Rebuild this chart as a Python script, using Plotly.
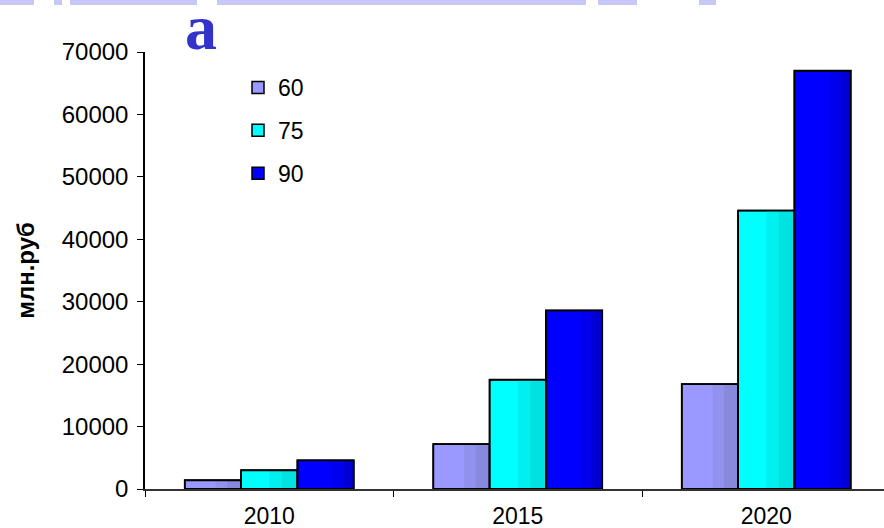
import plotly.graph_objects as go

# ---- data ----
years = ["2010", "2015", "2020"]
series_names = ["60", "75", "90"]
values_60 = [1400, 7200, 16800]
values_75 = [3000, 17500, 44600]
values_90 = [4600, 28600, 67000]
y_ticks = [0, 10000, 20000, 30000, 40000, 50000, 60000, 70000]
y_title = "млн.руб"
panel_letter = "a"

# ---- styling ----
series_values = [values_60, values_75, values_90]
# (base, mid, dark) shades to imitate the horizontal gradient
shades = [
    ("#9999ff", "#9191ee", "#8888dd"),
    ("#00ffff", "#00f0f0", "#00e2e2"),
    ("#0000ff", "#0000ee", "#0000d4"),
]
strip_starts = [(0.55, 0.75), (0.5, 0.72), (0.62, 0.82)]

W, H = 884, 528
L, R, T, B = 145, 0, 52, 39
bw = 0.2266
start = -1.5 * bw

fig = go.Figure()
for i, (name, vals) in enumerate(zip(series_names, series_values)):
    off = start + i * bw
    base, mid, dark = shades[i]
    s1, s2 = strip_starts[i]
    fig.add_trace(go.Bar(
        x=years, y=vals, name=name, legendgroup=name,
        width=bw, offset=off,
        marker=dict(color=base, line=dict(color="black", width=1.5)),
    ))
    fig.add_trace(go.Bar(
        x=years, y=vals, legendgroup=name, showlegend=False,
        width=bw * (s2 - s1), offset=off + bw * s1,
        marker=dict(color=mid, line=dict(width=0)), hoverinfo="skip",
    ))
    fig.add_trace(go.Bar(
        x=years, y=vals, legendgroup=name, showlegend=False,
        width=bw * (1 - s2), offset=off + bw * s2,
        marker=dict(color=dark, line=dict(width=0)), hoverinfo="skip",
    ))
    fig.add_trace(go.Bar(
        x=years, y=vals, legendgroup=name, showlegend=False,
        width=bw, offset=off,
        marker=dict(color="rgba(0,0,0,0)", line=dict(color="black", width=1.8)),
        hoverinfo="skip",
    ))

pw = W - L - R
ph = H - T - B


def px_x(px):
    return (px - L) / pw


def px_y(py):
    return (H - B - py) / ph


# faint banner remnants at the very top
shapes = []
for x0, x1 in [(0, 34), (54, 62), (70, 197), (217, 586), (598, 637), (699, 716)]:
    shapes.append(dict(type="rect", xref="paper", yref="paper",
                       x0=px_x(x0), x1=px_x(x1), y0=px_y(5), y1=px_y(0),
                       fillcolor="#c8c8f8", line=dict(width=0), layer="above"))

fig.update_layout(
    width=W, height=H,
    margin=dict(l=L, r=R, t=T, b=B, pad=0),
    paper_bgcolor="white", plot_bgcolor="white",
    barmode="overlay",
    font=dict(family="Liberation Sans, Arial, sans-serif", color="black", size=24),
    showlegend=True,
    legend=dict(x=px_x(238), y=px_y(66), xanchor="left", yanchor="top",
                traceorder="grouped", tracegroupgap=10,
                font=dict(size=23), bgcolor="rgba(0,0,0,0)"),
    shapes=shapes,
    annotations=[
        dict(text=f"<b>{panel_letter}</b>", xref="paper", yref="paper",
             x=px_x(201), y=px_y(27), xanchor="center", yanchor="middle",
             showarrow=False,
             font=dict(family="Liberation Serif, Times New Roman, serif",
                       size=64, color="#3333cc")),
    ],
)
fig.update_xaxes(
    type="category", range=[-0.5, (W - L) / 248.5 - 0.5],
    showline=True, linecolor="#333333", linewidth=2,
    ticks="outside", tickson="boundaries", ticklen=6, tickcolor="black",
    ticklabelstandoff=5,
    tickfont=dict(size=23), showgrid=False, zeroline=False,
)
fig.update_yaxes(
    range=[0, 70000], tickvals=y_ticks, ticktext=[str(v) for v in y_ticks],
    showline=True, linecolor="black", linewidth=1.5,
    ticks="outside", ticklen=6, tickcolor="black",
    ticklabelstandoff=4, tickfont=dict(size=24),
    showgrid=False, zeroline=False,
    title=dict(text=f"<b>{y_title}</b>", font=dict(size=24), standoff=20),
)

fig.write_html("out.html", config={"displayModeBar": False},
               post_script="document.body.style.margin='0';")
